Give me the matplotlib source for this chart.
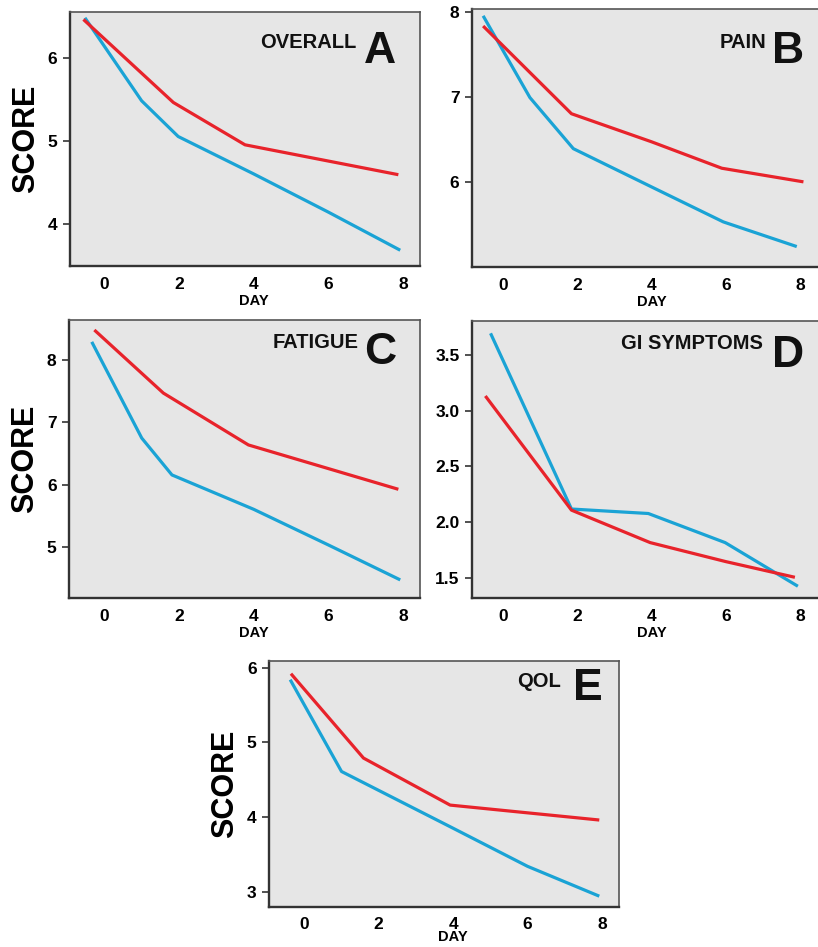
import matplotlib.pyplot as plt

plt.rcParams['font.family'] = ['Liberation Sans', 'DejaVu Sans']
plt.rcParams['font.weight'] = 'bold'

# panel names and letters
titles = ["OVERALL", "PAIN", "FATIGUE", "GI SYMPTOMS", "QOL"]
letters = ["A", "B", "C", "D", "E"]

# red series (x = day, y = score)
red_x = [[-0.56, 1.85, 3.77, 7.88],
         [-0.54, 1.84, 4.0, 5.89, 8.09],
         [-0.27, 1.58, 3.86, 7.88],
         [-0.48, 1.84, 3.96, 6.0, 7.86],
         [-0.36, 1.59, 3.92, 7.93]]
red_y = [[6.47, 5.47, 4.96, 4.60],
         [7.83, 6.80, 6.47, 6.16, 6.00],
         [8.48, 7.47, 6.64, 5.93],
         [3.13, 2.11, 1.82, 1.65, 1.51],
         [5.92, 4.79, 4.16, 3.96]]

# blue series
blue_x = [[-0.52, 1.0, 1.98, 4.0, 6.0, 7.93],
          [-0.54, 0.72, 1.89, 4.0, 5.93, 7.91],
          [-0.34, 1.0, 1.81, 4.0, 6.0, 7.93],
          [-0.34, 1.84, 3.91, 5.98, 7.94],
          [-0.38, 1.0, 4.0, 6.0, 7.93]]
blue_y = [[6.49, 5.49, 5.06, 4.61, 4.15, 3.69],
          [7.95, 6.99, 6.39, 5.94, 5.53, 5.24],
          [8.29, 6.75, 6.16, 5.61, 5.04, 4.48],
          [3.69, 2.12, 2.08, 1.82, 1.43],
          [5.84, 4.61, 3.85, 3.34, 2.94]]

x_ticks = [0, 2, 4, 6, 8]
y_ticks = [[4, 5, 6], [6, 7, 8], [5, 6, 7, 8], [1.5, 2.0, 2.5, 3.0, 3.5], [3, 4, 5, 6]]
y_lims = [(3.5, 6.56), (5.0, 8.03), (4.19, 8.64), (1.325, 3.80), (2.795, 6.09)]
x_lims = [(-0.92, 8.46), (-0.84, 8.59), (-0.95, 8.46), (-0.84, 8.59), (-0.95, 8.46)]

W, H = 818, 947
# axes boxes in pixels: left, top, right, bottom
boxes = [(70, 12, 420, 266), (472, 9, 822, 267), (69, 320, 420, 598),
         (472, 321, 822, 598), (269, 661, 619, 907)]
# letter right edge / top and title right edge / top (pixels)
letter_pos = [(396, 31), (804, 31), (396, 332), (804, 335), (603, 668)]
title_pos = [(356, 33), (766, 33), (359, 333), (763, 334), (561, 672)]
# offset of the DAY label below each axes (points)
day_off = [-20.5, -20.5, -20.5, -20.5, -16.5]

RED = "#e8232b"
BLUE = "#1aa3d5"

fig = plt.figure(figsize=(W / 100, H / 100), dpi=100)

for i in range(5):
    l, t, r, b = boxes[i]
    ax = fig.add_axes([l / W, (H - b) / H, (r - l) / W, (b - t) / H])
    ax.set_facecolor("#e6e6e6")
    ax.plot(blue_x[i], blue_y[i], color=BLUE, lw=2.3, solid_capstyle="butt")
    ax.plot(red_x[i], red_y[i], color=RED, lw=2.3, solid_capstyle="butt")
    ax.set_xlim(*x_lims[i])
    ax.set_ylim(*y_lims[i])
    ax.set_xticks(x_ticks)
    ax.set_yticks(y_ticks[i])
    if i == 3:
        ax.set_yticklabels(["%.1f" % v for v in y_ticks[i]])
    ax.tick_params(axis="x", length=0, pad=7 if i == 4 else 8, labelsize=12.5)
    ax.tick_params(axis="y", length=5, width=1.2, pad=4, labelsize=12.5, color="#333333")
    for side in ["left", "bottom"]:
        ax.spines[side].set_linewidth(1.7)
        ax.spines[side].set_color("#333333")
    for side in ["top", "right"]:
        ax.spines[side].set_linewidth(1.2)
        ax.spines[side].set_color("#555555")

    w, h = r - l, b - t
    lx, ly = letter_pos[i]
    ax.text((lx - l) / w, 1 - (ly - t) / h, letters[i], transform=ax.transAxes,
            ha="right", va="top", fontsize=32, fontweight="bold", color="#111111")
    tx, ty = title_pos[i]
    ax.text((tx - l) / w, 1 - (ty - t) / h, titles[i], transform=ax.transAxes,
            ha="right", va="top", fontsize=14.5, fontweight="bold", color="#111111")

    ax.annotate("DAY", xy=(4, 0), xycoords=("data", "axes fraction"),
                xytext=(0, day_off[i]), textcoords="offset points", ha="center", va="top",
                fontsize=10.5, fontweight="bold")
    if i in (0, 2, 4):
        ax.set_ylabel("SCORE", fontsize=22, fontweight="bold", labelpad=5)

fig.savefig("out.png", dpi=100)
